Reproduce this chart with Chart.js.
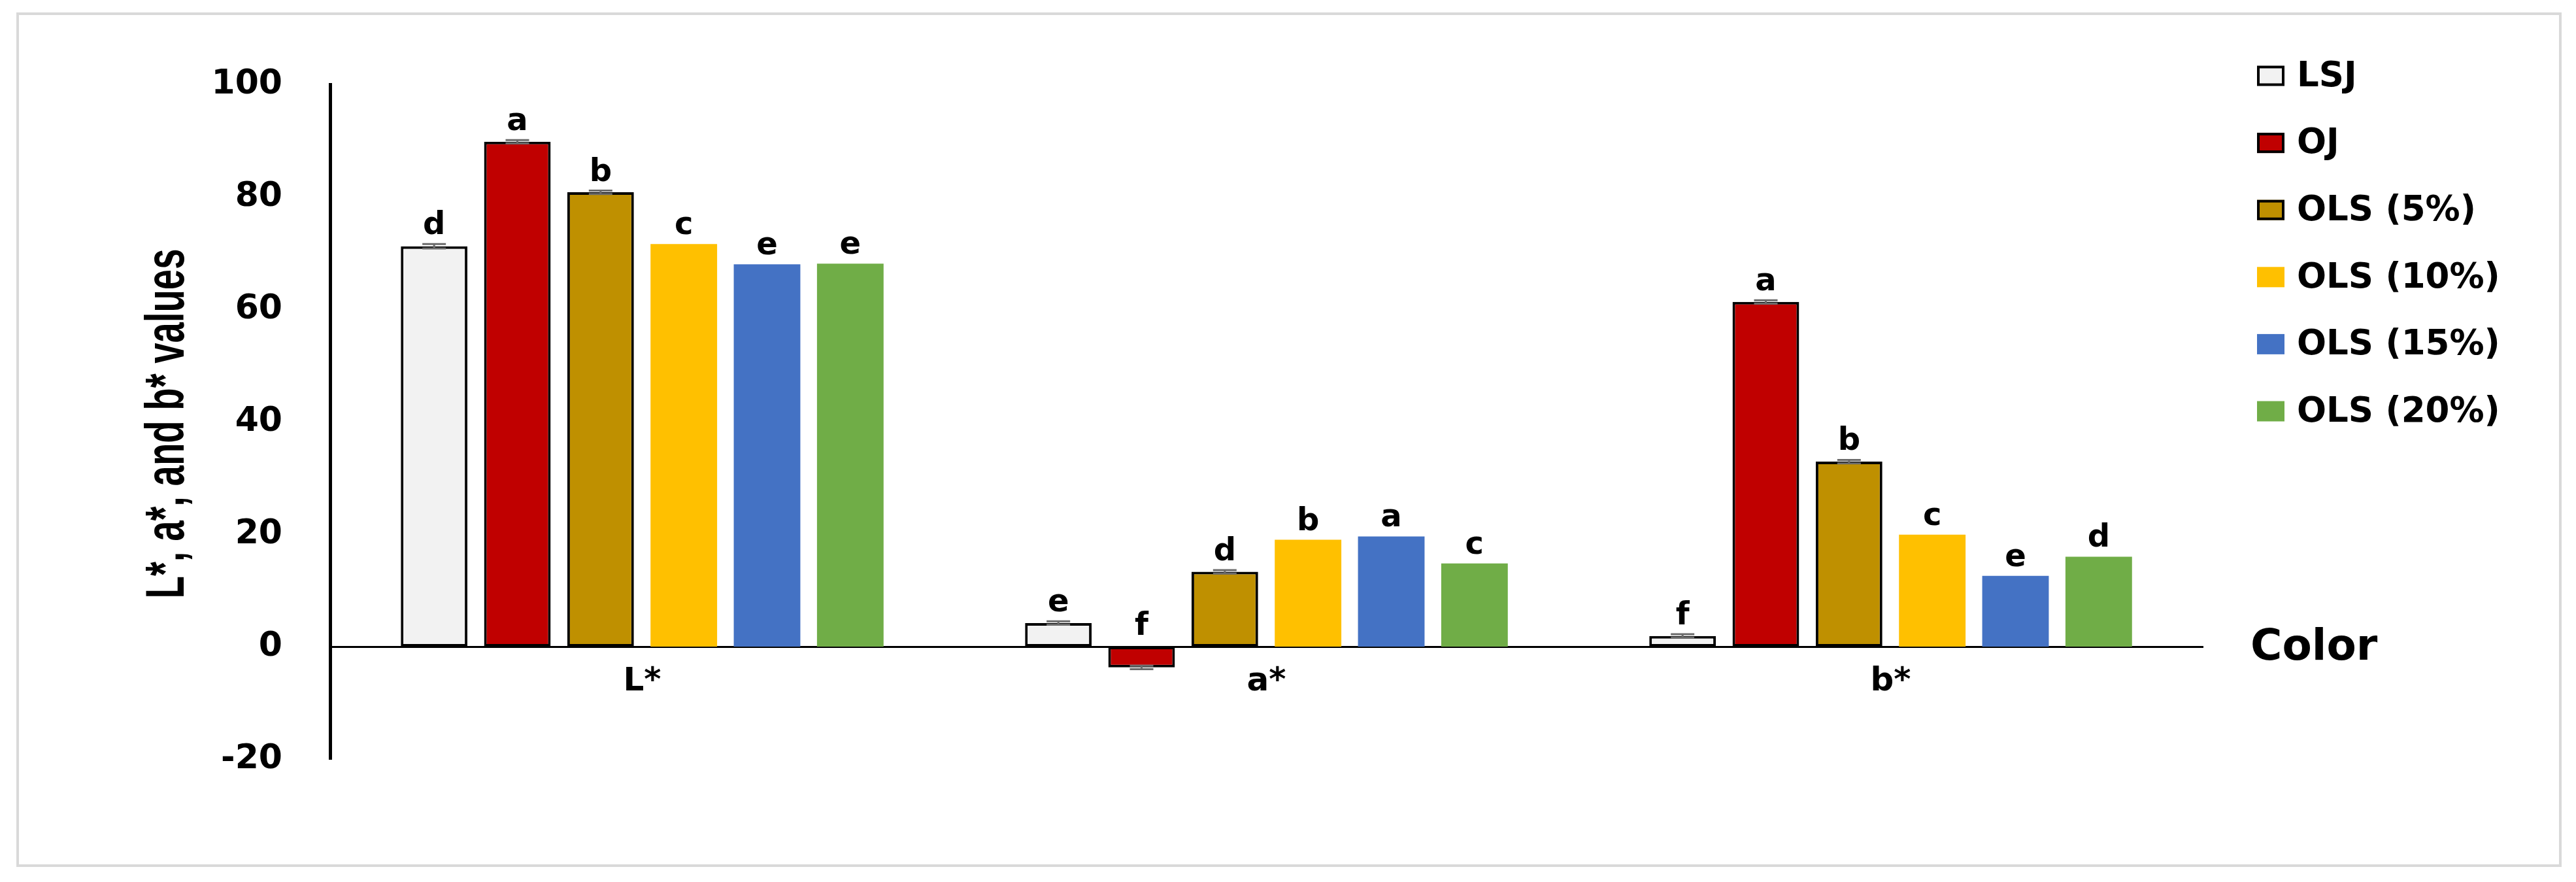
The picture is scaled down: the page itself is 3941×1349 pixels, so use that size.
<!DOCTYPE html>
<html><head><meta charset="utf-8">
<script src="https://cdn.jsdelivr.net/npm/chart.js@4/dist/chart.umd.min.js"></script>
<style>html,body{margin:0;padding:0;background:#fff;overflow:hidden}canvas{display:block}</style>
</head><body>
<canvas id="c" width="3941" height="1349"></canvas>
<script>
// ---- data ----
const categories = ['L*', 'a*', 'b*'];
const seriesNames = ['LSJ', 'OJ', 'OLS (5%)', 'OLS (10%)', 'OLS (15%)', 'OLS (20%)'];
const valuesLSJ   = [71.2, 4.2, 1.9];
const valuesOJ    = [89.8, -3.7, 61.3];
const valuesOLS5  = [80.8, 13.3, 32.9];
const valuesOLS10 = [71.6, 19.0, 19.9];
const valuesOLS15 = [68.0, 19.6, 12.6];
const valuesOLS20 = [68.1, 14.8, 16.0];
const sdLSJ   = [0.4, 0.3, 0.3];
const sdOJ    = [0.3, 0.3, 0.3];
const sdOLS5  = [0.3, 0.3, 0.3];
const sdOLS10 = [0, 0, 0];
const sdOLS15 = [0, 0, 0];
const sdOLS20 = [0, 0, 0];
const lettersLSJ   = ['d', 'e', 'f'];
const lettersOJ    = ['a', 'f', 'a'];
const lettersOLS5  = ['b', 'd', 'b'];
const lettersOLS10 = ['c', 'b', 'c'];
const lettersOLS15 = ['e', 'a', 'e'];
const lettersOLS20 = ['e', 'c', 'd'];
const yTicks = [-20, 0, 20, 40, 60, 80, 100];
const yAxisTitle = 'L*, a*, and b* values';
const xAxisTitle = 'Color';

// ---- styles ----
const fills   = ['#F2F2F2', '#C00000', '#BF9000', '#FFC000', '#4472C4', '#70AD47'];
const borders = [4, 4, 4, 0, 0, 0];
const allValues  = [valuesLSJ, valuesOJ, valuesOLS5, valuesOLS10, valuesOLS15, valuesOLS20];
const allSd      = [sdLSJ, sdOJ, sdOLS5, sdOLS10, sdOLS15, sdOLS20];
const allLetters = [lettersLSJ, lettersOJ, lettersOLS5, lettersOLS10, lettersOLS15, lettersOLS20];
const BOLD = "'DejaVu Sans', Verdana, sans-serif";

const datasets = seriesNames.map((name, i) => ({
  label: name,
  data: allValues[i],
  sd: allSd[i],
  letters: allLetters[i],
  backgroundColor: fills[i],
  borderColor: '#000000',
  borderWidth: borders[i],
  borderSkipped: false,
  categoryPercentage: 0.8,
  barPercentage: 0.8
}));

const decor = {
  id: 'decor',
  beforeDraw(chart) {
    const ctx = chart.ctx;
    ctx.save();
    ctx.fillStyle = '#ffffff';
    ctx.fillRect(0, 0, chart.width, chart.height);
    ctx.strokeStyle = '#D9D9D9';
    ctx.lineWidth = 4;
    ctx.strokeRect(27, 21, 3890, 1303);
    ctx.restore();
  },
  afterDatasetsDraw(chart) {
    const ctx = chart.ctx;
    const ys = chart.scales.y;
    ctx.save();
    chart.data.datasets.forEach((ds, i) => {
      const meta = chart.getDatasetMeta(i);
      meta.data.forEach((bar, j) => {
        const v = ds.data[j];
        const sd = ds.sd[j] || 0;
        if (sd > 0) {
          const y1 = ys.getPixelForValue(v + sd), y2 = ys.getPixelForValue(v - sd);
          ctx.strokeStyle = '#6b6b6b';
          ctx.lineWidth = 3;
          ctx.beginPath();
          ctx.moveTo(bar.x, y1); ctx.lineTo(bar.x, y2);
          ctx.moveTo(bar.x - 18, y1); ctx.lineTo(bar.x + 18, y1);
          ctx.moveTo(bar.x - 18, y2); ctx.lineTo(bar.x + 18, y2);
          ctx.stroke();
        }
        const top = ys.getPixelForValue(Math.max(v, 0) + sd);
        ctx.fillStyle = '#000000';
        ctx.font = 'bold 48px ' + BOLD;
        ctx.textAlign = 'center';
        ctx.textBaseline = 'alphabetic';
        ctx.fillText(ds.letters[j], bar.x, top - 15);
      });
    });
    ctx.restore();
  },
  afterDraw(chart) {
    const ctx = chart.ctx;
    const ys = chart.scales.y;
    ctx.save();
    // legend
    chart.data.datasets.forEach((ds, i) => {
      const cy = 116 + i * 102.6;
      ctx.fillStyle = ds.backgroundColor;
      ctx.fillRect(3453, cy - 15.5, 42, 31);
      if (ds.borderWidth > 0) {
        ctx.strokeStyle = '#000000';
        ctx.lineWidth = 4;
        ctx.strokeRect(3455, cy - 13.5, 38, 27);
      }
      ctx.fillStyle = '#000000';
      ctx.font = 'bold 53px ' + BOLD;
      ctx.textAlign = 'left';
      ctx.textBaseline = 'middle';
      ctx.fillText(ds.label, 3514, cy + 2);
    });
    // x-axis title
    const zeroY = ys.getPixelForValue(0);
    ctx.font = 'bold 66px ' + BOLD;
    ctx.textAlign = 'left';
    ctx.textBaseline = 'middle';
    ctx.fillStyle = '#000000';
    ctx.fillText(xAxisTitle, 3443, zeroY + 3);
    // y-axis title (condensed)
    ctx.translate(258, (ys.top + ys.bottom) / 2 + 3);
    ctx.rotate(-Math.PI / 2);
    ctx.scale(0.67, 1);
    ctx.font = "bold 84px 'Liberation Sans', Arial, sans-serif";
    ctx.textAlign = 'center';
    ctx.textBaseline = 'middle';
    ctx.fillText(yAxisTitle, 0, 0);
    ctx.restore();
  }
};

new Chart(document.getElementById('c'), {
  type: 'bar',
  data: { labels: categories, datasets },
  options: {
    responsive: false,
    devicePixelRatio: 1,
    animation: false,
    layout: { padding: { left: 0, top: 129, right: 571, bottom: 188 } },
    plugins: { legend: { display: false }, tooltip: { enabled: false } },
    scales: {
      x: {
        type: 'category',
        position: { y: 0 },
        offset: true,
        grid: { display: false, drawTicks: false },
        border: { display: true, color: '#000000', width: 3 },
        ticks: { color: '#000000', font: { family: BOLD, size: 50, weight: 'bold' }, padding: 24 }
      },
      y: {
        min: -20, max: 100,
        afterBuildTicks: s => { s.ticks = yTicks.map(v => ({ value: v })); },
        afterFit: s => { s.width = 505; },
        grid: { display: false, drawTicks: false },
        border: { display: true, color: '#000000', width: 5 },
        ticks: { color: '#000000', font: { family: BOLD, size: 52, weight: 'bold' }, padding: 73 }
      }
    }
  },
  plugins: [decor]
});
</script>
</body></html>
